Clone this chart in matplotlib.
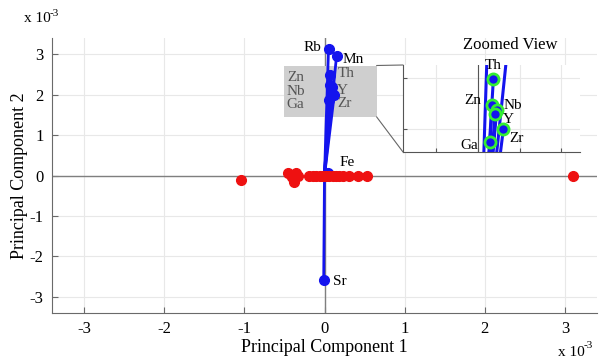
import numpy as np
import matplotlib
matplotlib.use('Agg')
import matplotlib.pyplot as plt
from matplotlib.patches import Rectangle, ConnectionPatch

plt.rcParams['font.family'] = ['Liberation Serif', 'DejaVu Serif']
plt.rcParams['axes.unicode_minus'] = False

# loadings (variable vectors), in units of 1e-3
names = ['Rb', 'Mn', 'Th', 'Zn', 'Nb', 'Y', 'Zr', 'Ga', 'Fe', 'Sr']
pc1 = [0.05, 0.15, 0.074, 0.069, 0.09, 0.082, 0.122, 0.058, 0.04, -0.01]
pc2 = [3.13, 2.95, 2.49, 2.24, 2.19, 2.15, 2.00, 1.87, 0.05, -2.59]

# scores (observations), in units of 1e-3
score_x = [-1.04, -0.45, -0.42, -0.40, -0.38, -0.35, -0.33, -0.19, -0.14, -0.10,
           -0.06, -0.02, 0.02, 0.06, 0.10, 0.14, 0.18, 0.23, 0.30, 0.42, 0.53, 3.10]
score_y = [-0.12, 0.05, 0.02, -0.03, -0.15, 0.05, 0.0, 0.0, 0.0, 0.0,
           0.0, 0.0, 0.0, 0.0, 0.0, 0.0, 0.0, 0.0, 0.0, 0.0, 0.0, 0.0]

ticks = [-3, -2, -1, 0, 1, 2, 3]
inset_names = ['Th', 'Zn', 'Nb', 'Y', 'Zr', 'Ga']

# label offsets in pixels (dx, dy, ha)
main_off = {'Rb': (-7, 1, 'right'), 'Mn': (6, -3, 'left'), 'Th': (7, 1, 'left'),
            'Zn': (-26, 7, 'right'), 'Nb': (-27, -5, 'right'), 'Y': (6, -2, 'left'),
            'Zr': (3, -9, 'left'), 'Ga': (-25, -5, 'right'), 'Fe': (12, 11, 'left'),
            'Sr': (9, -1, 'left')}
inset_off = {'Th': (0, 14, 'center'), 'Zn': (-11, 4, 'right'), 'Nb': (7, 4, 'left'),
             'Y': (8, -6, 'left'), 'Zr': (6, -9, 'left'), 'Ga': (-12, -3, 'right')}
boxed = ['Th', 'Zn', 'Nb', 'Y', 'Zr', 'Ga']

blue = '#1414ee'
red = '#ee1111'
px = 0.72  # points per pixel at 100 dpi


def exp_label(x, y):
    # "x 10^-3" written with a plain hyphen, like the original
    fig.text(x / 600, 1 - y / 360, 'x 10', fontsize=11, ha='left', va='center')
    fig.text((x + 26) / 600, 1 - (y - 6) / 360, '-3', fontsize=8, ha='left', va='center')


fig = plt.figure(figsize=(6, 3.6), dpi=100)
ax = fig.add_axes([52/600, 47/360, 545/600, 275/360])

ax.axhline(0, color='#7f7f7f', lw=1, zorder=1)
ax.axvline(0, color='#7f7f7f', lw=1, zorder=1)

# zoom highlight box
ax.add_patch(Rectangle((-0.51, 1.45), 1.16, 1.27, facecolor='#cfcfcf',
                       edgecolor='none', zorder=2))

for x, y in zip(pc1, pc2):
    ax.plot([0, x], [0, y], color=blue, lw=2, zorder=3)
ax.plot(pc1, pc2, 'o', color=blue, ms=7, zorder=4)
ax.plot(score_x, score_y, 'o', color=red, ms=7, zorder=5)

for n, x, y in zip(names, pc1, pc2):
    dx, dy, ha = main_off[n]
    c = '#555555' if n in boxed else 'black'
    ax.annotate(n, (x, y), xytext=(dx*px, dy*px), textcoords='offset points',
                ha=ha, va='center', fontsize=11, color=c, zorder=6)

ax.set_xlim(-3.4, 3.4)
ax.set_ylim(-3.4, 3.4)
ax.set_xticks(ticks)
ax.set_yticks(ticks)
ax.grid(True, color='#e8e8e8', lw=0.8)
ax.set_axisbelow(True)
for s in ['top', 'right']:
    ax.spines[s].set_visible(False)
for s in ['left', 'bottom']:
    ax.spines[s].set_color('#6a6a6a')
ax.tick_params(direction='in', length=4, color='#6a6a6a', labelsize=12, pad=6)
ax.set_xlabel('Principal Component 1', fontsize=13, labelpad=1)
ax.set_ylabel('Principal Component 2', fontsize=13, labelpad=1)
exp_label(24, 19)
exp_label(558, 352)

# inset (zoomed view)
axi = fig.add_axes([403/600, 208/360, 177/600, 87/360])
axi.axvline(0, color='#555555', lw=0.8, zorder=1)
for x, y in zip(pc1, pc2):
    axi.plot([0, x], [0, y], color=blue, lw=2.2, zorder=3)
for n in inset_names:
    i = names.index(n)
    axi.plot(pc1[i], pc2[i], 'o', color=blue, mec='#33ee33', mew=2, ms=8, zorder=4)
    dx, dy, ha = inset_off[n]
    axi.annotate(n, (pc1[i], pc2[i]), xytext=(dx*px, dy*px), textcoords='offset points',
                 ha=ha, va='center', fontsize=11, zorder=6)
axi.set_xlim(-0.36, 0.49)
axi.set_ylim(1.775, 2.63)
axi.set_xticks([-0.2, 0, 0.2, 0.4])
axi.set_yticks([2.0, 2.5])
axi.set_xticklabels([])
axi.set_yticklabels([])
axi.grid(True, color='#e8e8e8', lw=0.8)
axi.set_axisbelow(True)
for s in ['top', 'right']:
    axi.spines[s].set_visible(False)
for s in ['left', 'bottom']:
    axi.spines[s].set_color('#555555')
axi.tick_params(direction='in', length=3, color='#555555')
fig.text(510/600, 1 - 45/360, 'Zoomed View', fontsize=12, ha='center', va='center')

for ya, yb in [(2.72, 1), (1.45, 0)]:
    con = ConnectionPatch(xyA=(0.65, ya), coordsA=ax.transData,
                          xyB=(0, yb), coordsB=axi.transAxes,
                          color='#666666', lw=0.8)
    fig.add_artist(con)

fig.savefig('out.png', dpi=100)
